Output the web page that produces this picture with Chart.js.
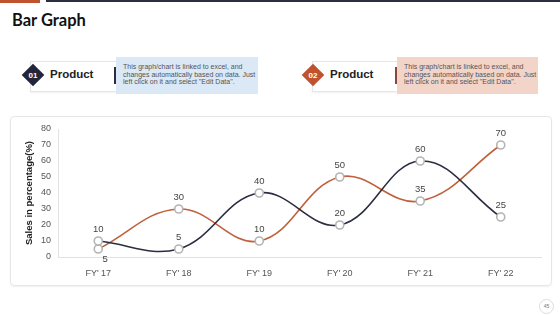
<!DOCTYPE html>
<html>
<head>
<meta charset="utf-8">
<script src="https://cdn.jsdelivr.net/npm/chart.js@4"></script>
<style>
  body { margin: 0; width: 560px; height: 315px; background: #fff; position: relative; overflow: hidden; font-family: "Liberation Sans", Arial, sans-serif; }
  .abs { position: absolute; }
  .title { left: 12px; top: 10px; font: 700 16.5px "Lato", sans-serif; color: #111; }
  .diamond { width: 16px; height: 16px; transform: rotate(45deg); }
  .num { width: 22px; text-align: center; font-size: 8px; color: #fff; font-weight: 700; }
  .label { font-weight: 700; font-size: 11.5px; color: #222; }
  .wbox { border: 1px solid #e6e6e6; border-right: none; background: #fff; box-shadow: 0 1px 2px rgba(0,0,0,0.06); }
  .note { font-size: 7px; line-height: 7.6px; color: #555; padding: 6px 0 0 7px; box-sizing: border-box; }
  .card { left: 10px; top: 116px; width: 540px; height: 168px; border: 1px solid #e6e6e6; border-radius: 4px; box-shadow: 0 1px 2px rgba(0,0,0,0.06); }
</style>
</head>
<body>
<div class="abs" style="left:0;top:0;width:40px;height:3px;background:#c0532f"></div>
<div class="abs" style="left:46px;top:0;width:514px;height:2px;background:#2b2d40"></div>
<div class="abs title">Bar Graph</div>

<div class="abs wbox" style="left:30px;top:61px;width:85px;height:29px"></div>
<div class="abs diamond" style="left:25px;top:67px;background:#23253a"></div>
<div class="abs num" style="left:22px;top:71px">01</div>
<div class="abs label" style="left:50px;top:68px">Product</div>
<div class="abs" style="left:114px;top:67px;width:2px;height:17px;background:#2b2d40"></div>
<div class="abs note" style="left:116px;top:57px;width:142px;height:37px;background:#dbe8f5">This graph/chart is linked to excel, and<br>changes automatically based on data. Just<br>left click on it and select "Edit Data".</div>

<div class="abs wbox" style="left:312px;top:61px;width:84px;height:29px"></div>
<div class="abs diamond" style="left:305px;top:67px;background:#c0532f"></div>
<div class="abs num" style="left:302px;top:71px">02</div>
<div class="abs label" style="left:330px;top:68px">Product</div>
<div class="abs" style="left:395px;top:67px;width:2px;height:17px;background:#8a4636"></div>
<div class="abs note" style="left:397px;top:57px;width:141px;height:37px;background:#f3d4c9">This graph/chart is linked to excel, and<br>changes automatically based on data. Just<br>left click on it and select "Edit Data".</div>

<div class="abs card"></div>
<div class="abs" style="left:10px;top:116px;width:541px;height:169px"><canvas id="c" width="541" height="169"></canvas></div>

<div class="abs" style="left:539px;top:299px;width:13px;height:13px;border:1px solid #ddd;border-radius:50%;font-size:5px;line-height:13px;text-align:center;color:#777">45</div>

<script>
// Data
const categories = ["FY' 17", "FY' 18", "FY' 19", "FY' 20", "FY' 21", "FY' 22"];
const product1 = [10, 5, 40, 20, 60, 25];
const product2 = [5, 30, 10, 50, 35, 70];
const yTicks = [0, 10, 20, 30, 40, 50, 60, 70, 80];

// value labels drawn above each point (one exception sits below-right)
const valueLabels = {
  id: 'valueLabels',
  afterDatasetsDraw(chart) {
    const ctx = chart.ctx;
    ctx.save();
    ctx.font = '9.5px "Liberation Sans", Arial, sans-serif';
    ctx.fillStyle = '#444';
    ctx.textAlign = 'center';
    chart.data.datasets.forEach((ds, i) => {
      chart.getDatasetMeta(i).data.forEach((pt, j) => {
        let dx = 0, dy = -9;
        if (i === 1 && j === 0) { dx = 7; dy = 13; }
        ctx.fillText(ds.data[j], pt.x + dx, pt.y + dy);
      });
    });
    ctx.restore();
  }
};

new Chart(document.getElementById('c'), {
  type: 'line',
  data: {
    labels: categories,
    datasets: [
      { label: 'Product 01', data: product1, borderColor: '#2b2d40', borderWidth: 1.6,
        pointBorderColor: '#b4b4b4', pointBackgroundColor: '#fff' },
      { label: 'Product 02', data: product2, borderColor: '#c0603c', borderWidth: 1.6,
        pointBorderColor: '#b4b4b4', pointBackgroundColor: '#fff' }
    ]
  },
  options: {
    responsive: false,
    animation: false,
    layout: { padding: { top: 13, right: 10, bottom: 0, left: 0 } },
    elements: {
      line: { tension: 0.4, fill: false },
      point: { radius: 4, borderWidth: 1 }
    },
    plugins: { legend: { display: false }, tooltip: { enabled: false } },
    scales: {
      x: {
        offset: true,
        grid: { display: false },
        border: { color: '#e2e2e2' },
        ticks: { color: '#555', font: { size: 9 }, padding: 3 },
        afterFit: s => { s.height = 28; }
      },
      y: {
        min: 0, max: 80,
        afterBuildTicks: s => { s.ticks = yTicks.map(v => ({ value: v })); },
        grid: { color: 'transparent', drawTicks: false },
        border: { color: '#e2e2e2' },
        ticks: { color: '#555', font: { size: 9 }, padding: 7 },
        title: { display: true, text: 'Sales in percentage(%)', color: '#222', font: { size: 9.5, weight: 'bold' }, padding: { top: 14, bottom: 0 } },
        afterFit: s => { s.width = 48; }
      }
    }
  },
  plugins: [valueLabels]
});
</script>
</body>
</html>
